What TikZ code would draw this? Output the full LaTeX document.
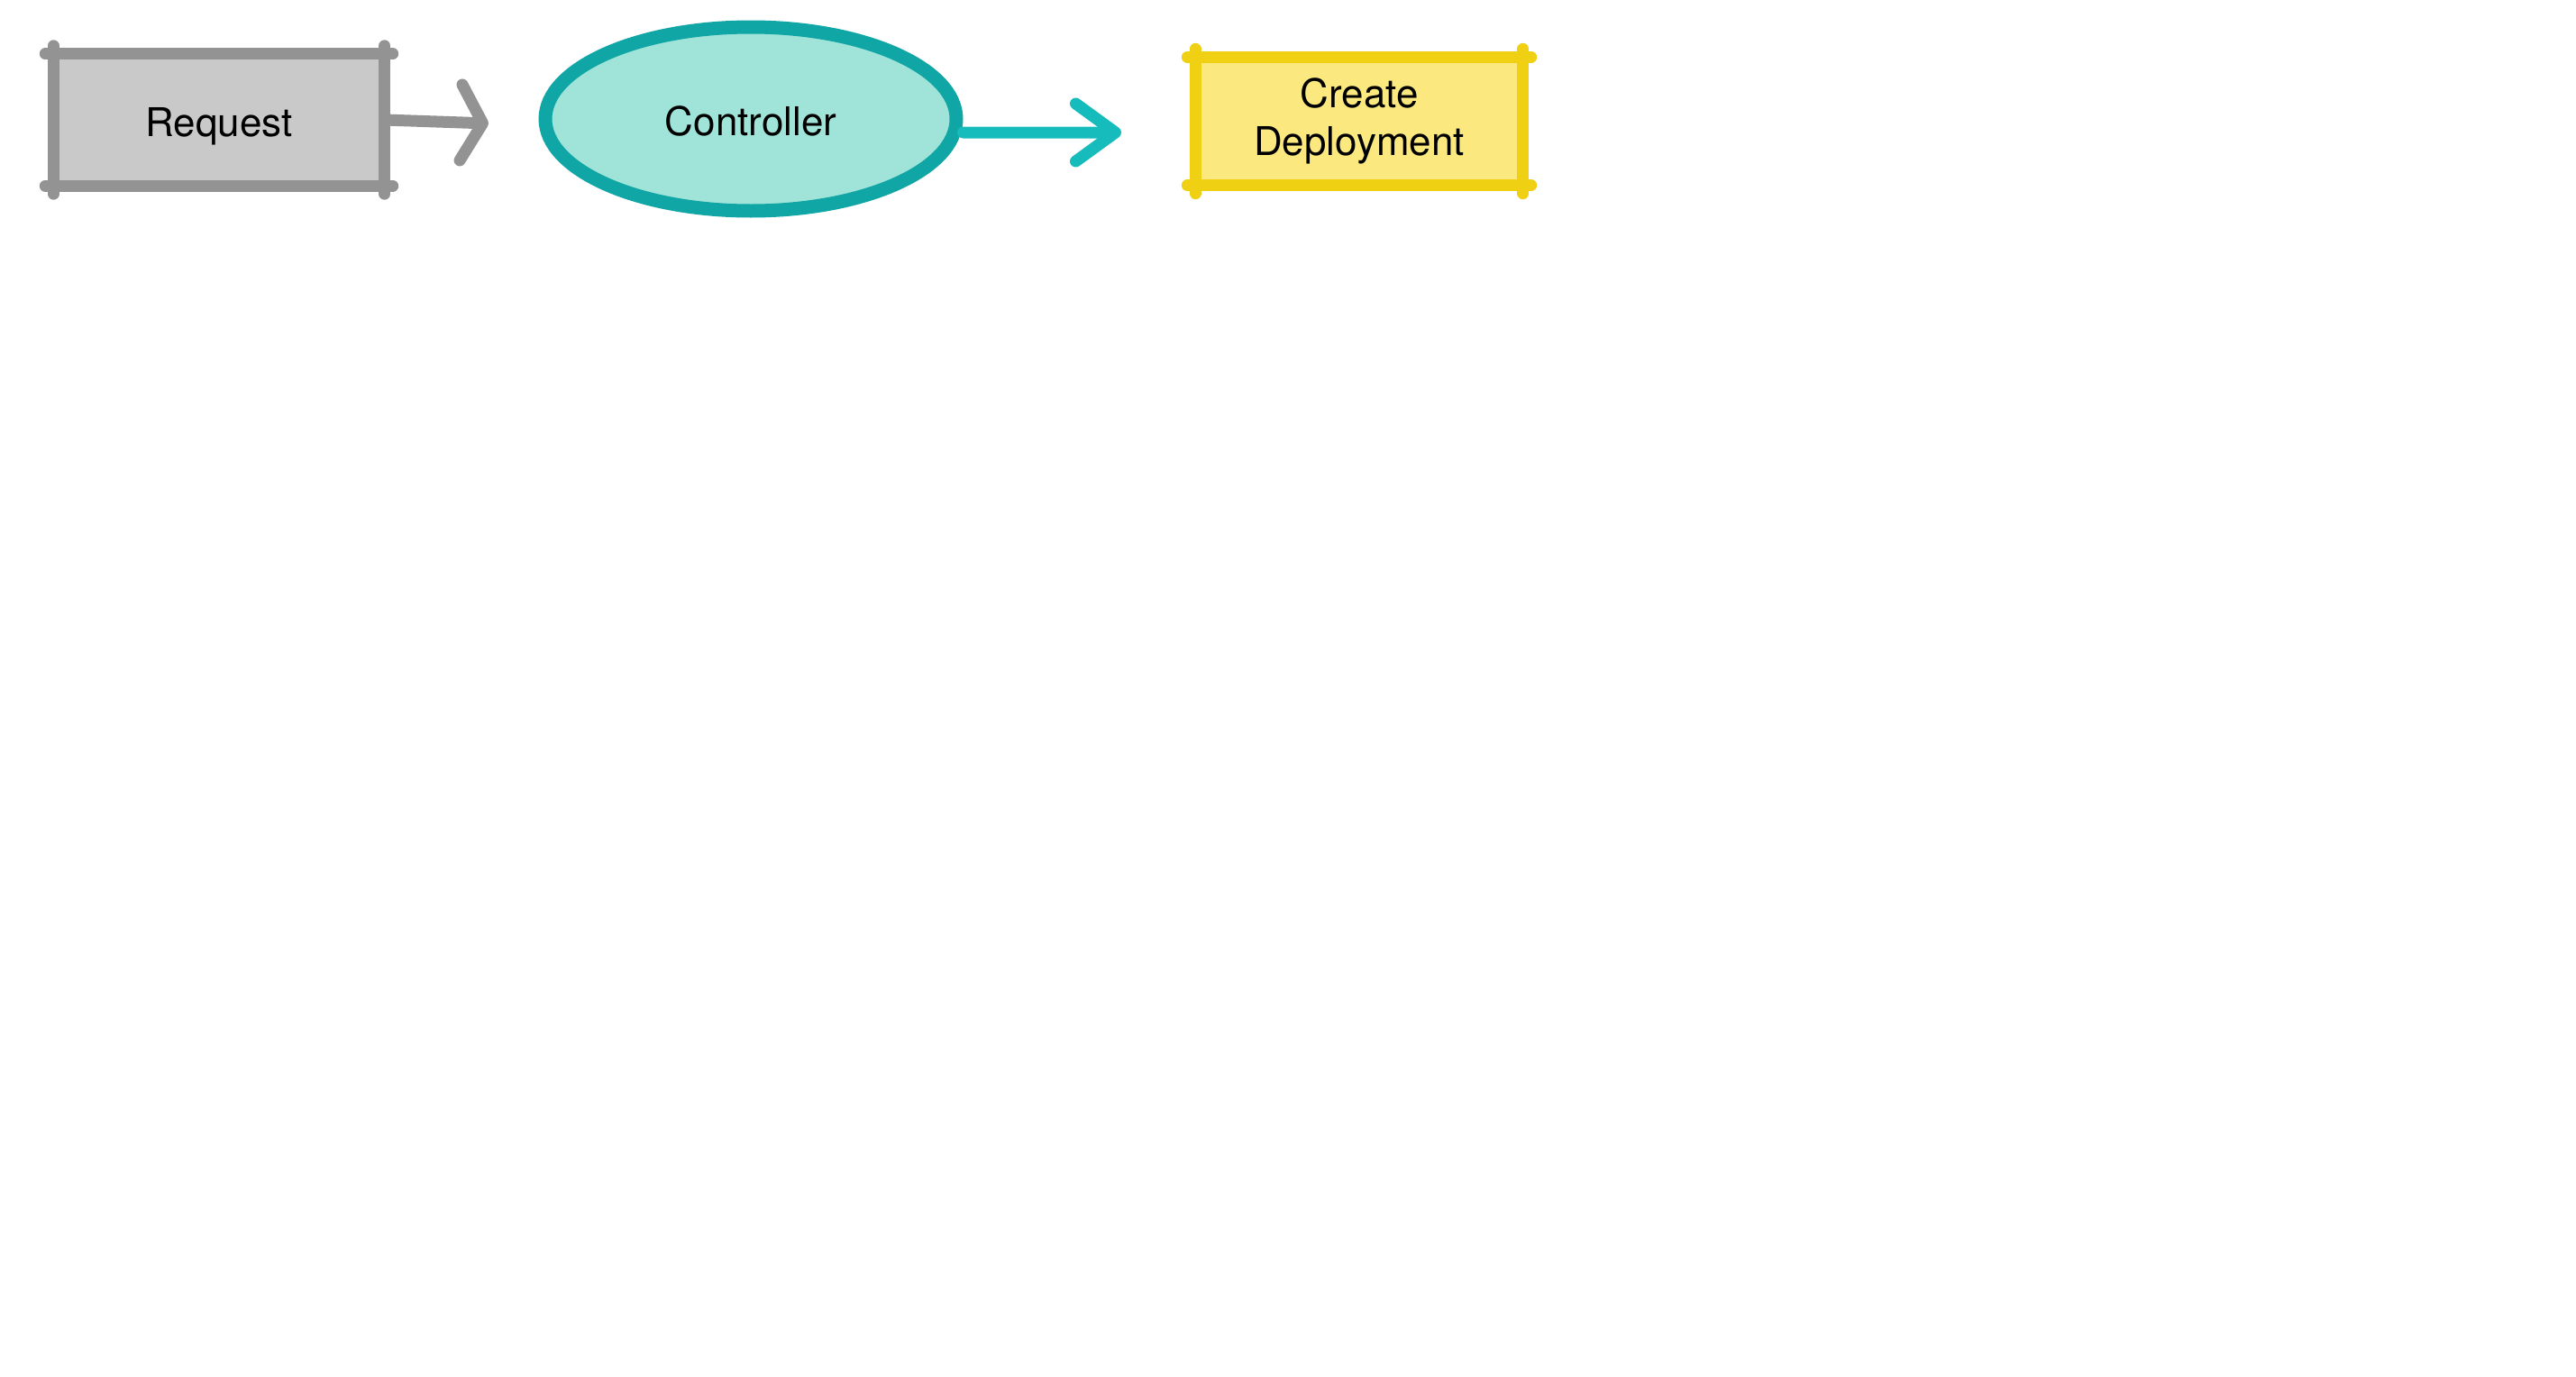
\documentclass[tikz,border=0pt]{standalone}
\usepackage{fontspec}
\setmainfont{TeX Gyre Heros}
\usetikzlibrary{arrows.meta,shapes.geometric}
\definecolor{reqfill}{HTML}{C9C9C9}
\definecolor{reqline}{HTML}{939393}
\definecolor{ctrlfill}{HTML}{9FE3D9}
\definecolor{ctrlline}{HTML}{10A6A6}
\definecolor{ctrlarrow}{HTML}{16BCBC}
\definecolor{depfill}{HTML}{FBE980}
\definecolor{depline}{HTML}{F0D012}
\begin{document}
\begin{tikzpicture}[
    box/.style={rectangle, inner sep=0pt, font=\fontsize{12.5}{15}\selectfont, align=center},
    edge/.style={line width=0.13cm, line cap=round, shorten <=-0.09cm, shorten >=-0.09cm},
    flow/.style={line width=0.13cm, line cap=round}
  ]
    \useasboundingbox (0,0) rectangle (28.58,-15.27);
    \node[box, fill=reqfill, minimum width=3.66cm, minimum height=1.45cm, text height=13pt, text depth=2.7pt] (req) at (2.43,-1.33) {Request};
    \node[ellipse, fill=ctrlfill, draw=ctrlline, line width=0.15cm, minimum width=4.56cm, minimum height=2.04cm,
          font=\fontsize{12.5}{15}\selectfont, text height=13pt, text depth=2.7pt] (ctrl) at (8.33,-1.32) {Controller};
    \node[box, fill=depfill, minimum width=3.62cm, minimum height=1.41cm] (dep) at (15.08,-1.345) {Create\\Deployment};
    \foreach \a/\b in {north west/north east, north east/south east, south east/south west, south west/north west} {
      \draw[edge, reqline] (req.\a) -- (req.\b);
      \draw[edge, depline] (dep.\a) -- (dep.\b);
    }
    \coordinate (in) at (5.42,-1.37);
    \coordinate (out) at (12.44,-1.47);
    \draw[flow, reqline, arrows={-{Straight Barb[round, length=0.24cm, width=0.84cm]}}] (req.east) -- (in);
    \draw[flow, ctrlarrow, arrows={-{Straight Barb[round, length=0.44cm, width=0.64cm]}}] ([yshift=-0.15cm]ctrl.east) -- (out);
\end{tikzpicture}
\end{document}
